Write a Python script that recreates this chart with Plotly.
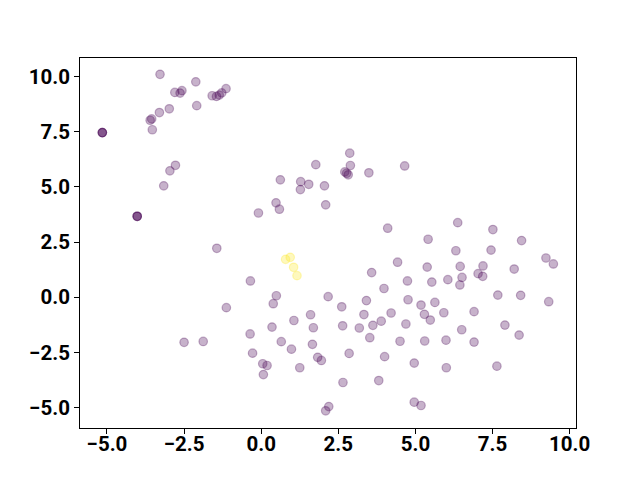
import plotly.graph_objects as go

# class 0 (purple) points
x0 = [-3.28, -2.12, -2.80, -2.57, -2.63, -1.59, -1.45, -1.36, -1.28, -1.14,
      -2.09, -2.98, -3.30, -3.60, -3.55, -3.53, -5.15, -5.15, -5.15, -2.78,
      -2.96, -3.16, -4.02, -4.02, -4.02, -0.09, -1.44, -0.35, -1.13, -0.36,
      -2.50, -1.88, -0.28, 2.87, 1.77, 2.89, 4.65, 2.71, 2.77, 2.82,
      3.49, 0.62, 1.28, 1.54, 1.27, 2.05, 2.09, 0.48, 0.59, 4.10,
      4.42, 3.58, 6.37, 7.51, 5.41, 8.44, 6.31, 7.45, 9.23, 9.47,
      5.38, 6.45, 7.19, 8.20, 6.51, 7.03, 7.18, 4.74, 5.53, 6.05,
      6.44, 7.67, 8.41, 9.32, 4.76, 5.18, 5.63, 5.29, 5.48, 5.92,
      6.90, 4.69, 6.50, 7.90, 8.36, 4.50, 5.30, 5.99, 6.90, 4.96,
      6.00, 7.64, 4.96, 5.18, 3.98, 0.49, 0.39, 2.17, 2.61, 3.41,
      1.60, 1.06, 3.33, 4.21, 3.89, 3.62, 3.18, 2.64, 1.69, 0.35,
      0.65, 0.98, 1.66, 3.52, 1.83, 1.95, 2.85, 4.00, 0.05, 0.19,
      0.07, 1.25, 2.65, 3.81, 2.19, 2.09]
y0 = [10.10, 9.76, 9.28, 9.36, 9.25, 9.13, 9.10, 9.16, 9.26, 9.45,
      8.68, 8.54, 8.37, 8.02, 8.08, 7.59, 7.46, 7.46, 7.46, 5.98,
      5.73, 5.05, 3.67, 3.67, 3.67, 3.82, 2.22, 0.74, -0.47, -1.66,
      -2.04, -2.00, -2.53, 6.53, 6.01, 5.97, 5.95, 5.68, 5.62, 5.55,
      5.64, 5.32, 5.24, 5.12, 4.88, 5.05, 4.19, 4.28, 3.99, 3.13,
      1.59, 1.12, 3.38, 3.07, 2.63, 2.57, 2.11, 2.14, 1.78, 1.51,
      1.37, 1.40, 1.42, 1.28, 0.90, 1.07, 0.95, 0.74, 0.69, 0.80,
      0.56, 0.10, 0.09, -0.20, -0.11, -0.35, -0.23, -0.77, -1.03, -0.70,
      -0.65, -1.21, -1.47, -1.26, -1.71, -1.99, -1.98, -1.94, -2.03, -2.98,
      -3.19, -3.12, -4.75, -4.90, 0.40, 0.07, -0.29, 0.03, -0.43, -0.15,
      -0.79, -1.05, -0.78, -0.71, -1.08, -1.27, -1.39, -1.29, -1.38, -1.35,
      -2.01, -2.35, -2.13, -1.83, -2.72, -2.86, -2.54, -2.69, -3.01, -3.09,
      -3.50, -3.19, -3.86, -3.77, -4.95, -5.14]

# class 1 (yellow) points
x1 = [0.79, 0.94, 1.05, 1.16]
y1 = [1.72, 1.81, 1.36, 0.98]

tick_vals_x = [-5.0, -2.5, 0.0, 2.5, 5.0, 7.5, 10.0]
tick_vals_y = [-5.0, -2.5, 0.0, 2.5, 5.0, 7.5, 10.0]

purple = "rgba(68,1,84,0.3)"
yellow = "rgba(253,231,37,0.3)"

fig = go.Figure()
fig.add_trace(go.Scatter(x=x0, y=y0, mode="markers",
                         marker=dict(size=8.5, color=purple,
                                     line=dict(color=purple, width=1.2))))
fig.add_trace(go.Scatter(x=x1, y=y1, mode="markers",
                         marker=dict(size=8.5, color=yellow,
                                     line=dict(color=yellow, width=1.2))))

axis_common = dict(showgrid=False, zeroline=False, showline=True, linecolor="black",
                   linewidth=1, mirror=True, ticks="outside", ticklen=5, tickwidth=1,
                   tickcolor="black", tickformat=".1f", automargin=False,
                   tickfont=dict(family="Roboto", size=20.5, color="black", weight="bold"))

fig.update_layout(
    width=640, height=480, showlegend=False,
    paper_bgcolor="white", plot_bgcolor="white",
    margin=dict(l=72, r=72, t=50, b=60, pad=0),
    xaxis=dict(range=[-5.874, 10.204], tickvals=tick_vals_x,
               ticklabelstandoff=-8, **axis_common),
    yaxis=dict(range=[-5.92, 10.84], tickvals=tick_vals_y, **axis_common),
)

fig.write_html("out.html")
